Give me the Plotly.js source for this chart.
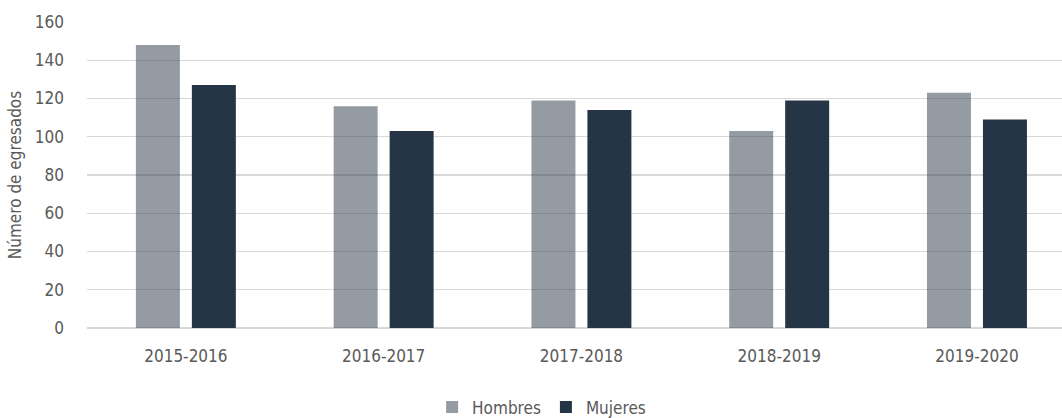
<!DOCTYPE html>
<html>
<head>
<meta charset="utf-8">
<script src="https://cdn.plot.ly/plotly-3.0.1.min.js"></script>
<style>html,body{margin:0;padding:0;background:#fff;}#chart{width:1062px;height:418px;}</style>
</head>
<body>
<div id="chart"></div>
<script>
const categories = ["2015-2016", "2016-2017", "2017-2018", "2018-2019", "2019-2020"];
const hombres = [148, 116, 119, 103, 123];
const mujeres = [127, 103, 114, 119, 109];
const yTicks = [0, 20, 40, 60, 80, 100, 120, 140, 160];

const FONT = "'DejaVu Sans Condensed', 'Liberation Sans Narrow', sans-serif";

const traces = [
  {
    type: "bar", name: "Hombres", x: categories, y: hombres,
    marker: {color: "rgba(42,55,71,0.5)", line: {width: 0}}
  },
  {
    type: "bar", name: "Mujeres", x: categories, y: mujeres,
    marker: {color: "#263545", line: {width: 0}}
  }
];

const layout = {
  width: 1062, height: 418,
  margin: {l: 87, r: 0, t: 22, b: 90, autoexpand: false},
  paper_bgcolor: "#fff", plot_bgcolor: "#fff",
  font: {family: FONT, color: "#595959", size: 17},
  barmode: "group", bargap: 0.434, bargroupgap: 0.214,
  showlegend: true,
  legend: {orientation: "h", x: 0.51, xref: "container", xanchor: "center",
           y: 0.025, yref: "container", yanchor: "middle",
           font: {size: 17, color: "#595959"}, itemwidth: 30, traceorder: "normal"},
  xaxis: {
    type: "category", range: [-0.5, 4.43], automargin: false,
    showgrid: false, zeroline: false, showline: false, ticks: "",
    tickfont: {size: 17, color: "#595959"}, ticklabelstandoff: 16
  },
  yaxis: {
    range: [0, 160], tickvals: yTicks, ticktext: yTicks.map(String), automargin: false,
    showgrid: true, gridcolor: "#d9d9d9", gridwidth: 1.3,
    zeroline: true, zerolinecolor: "#d9d9d9", zerolinewidth: 1.3,
    showline: false, ticks: "",
    tickfont: {size: 17, color: "#595959"}, ticklabelstandoff: 22,
    title: {text: "Número de egresados", font: {size: 17, color: "#595959"}, standoff: 8}
  }
};

Plotly.newPlot("chart", traces, layout, {displayModeBar: false, staticPlot: true});
</script>
</body>
</html>
